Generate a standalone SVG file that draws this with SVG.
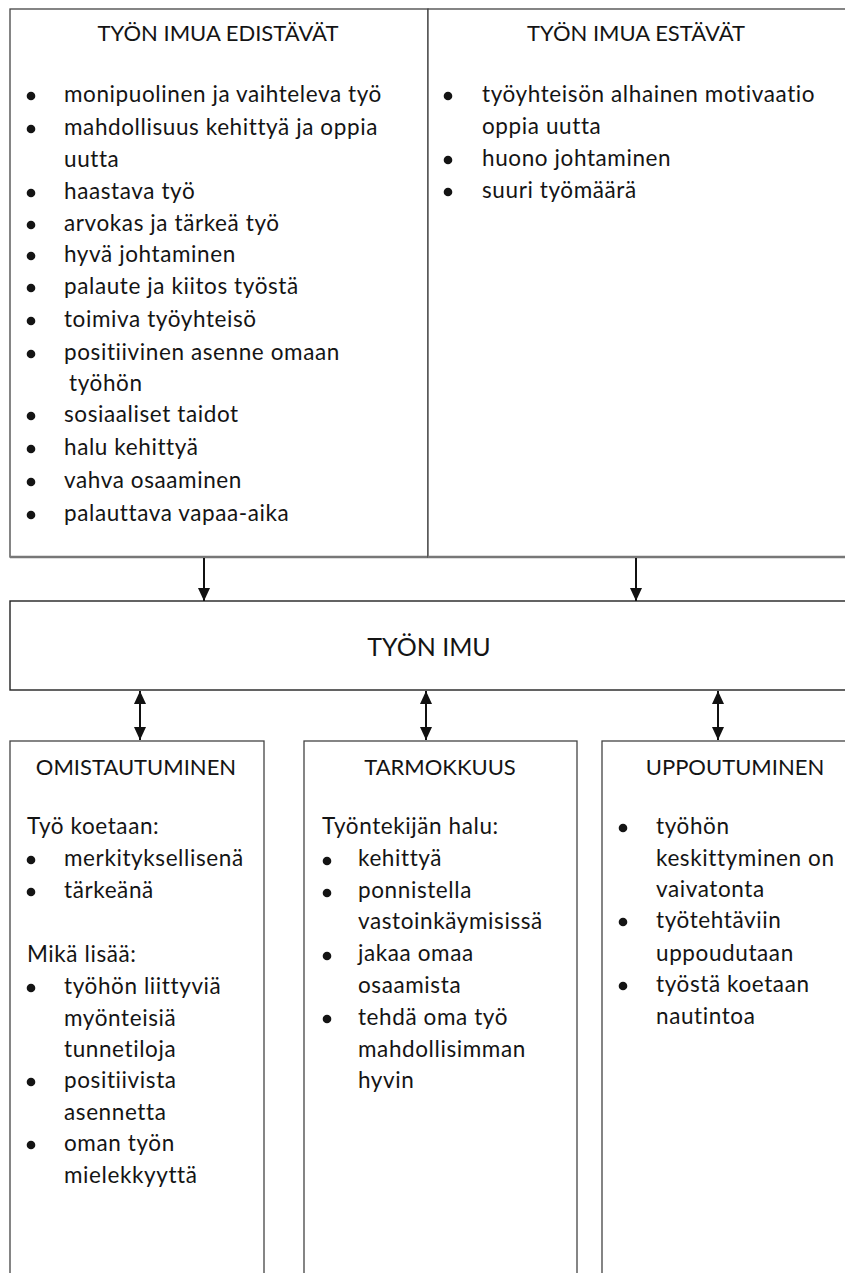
<svg xmlns="http://www.w3.org/2000/svg" width="845" height="1273" viewBox="0 0 845 1273">
<defs>
<marker id="ah" viewBox="0 0 13 12" refX="13" refY="6" markerWidth="13" markerHeight="12" markerUnits="userSpaceOnUse" orient="auto-start-reverse"><path d="M0,0 L13,6 L0,12 z" fill="#111"/></marker>
<style>
text{font-family:Lato,"Liberation Sans",sans-serif;font-size:22.5px;letter-spacing:0.6px;fill:#141414}
.t{font-size:22px;letter-spacing:0;text-anchor:middle}
.tb{font-size:22px;letter-spacing:0;text-anchor:middle}
.big{font-size:25px;letter-spacing:0;text-anchor:middle}
.box{fill:#fff;stroke:#444;stroke-width:1.3}
.mid{fill:#fff;stroke:#222;stroke-width:1.4}
.bul{fill:#141414}
.con{stroke:#111;stroke-width:2;fill:none}
</style>
</defs>
<rect width="845" height="1273" fill="#fff"/>
<g id="edistavat">
<rect class="box" x="10" y="9" width="418" height="548"/>
<line x1="10" y1="557" x2="428" y2="557" stroke="#777" stroke-width="2.5"/>
<text class="t" x="218" y="41">TYÖN IMUA EDISTÄVÄT</text>
<g class="bul"><circle cx="31" cy="96" r="4.3"/><circle cx="31" cy="129" r="4.3"/><circle cx="31" cy="193" r="4.3"/><circle cx="31" cy="225" r="4.3"/><circle cx="31" cy="256" r="4.3"/><circle cx="31" cy="288" r="4.3"/><circle cx="31" cy="321" r="4.3"/><circle cx="31" cy="354" r="4.3"/><circle cx="31" cy="416" r="4.3"/><circle cx="31" cy="449" r="4.3"/><circle cx="31" cy="482" r="4.3"/><circle cx="31" cy="515" r="4.3"/></g>
<text x="64" y="102">monipuolinen ja vaihteleva työ</text>
<text x="64" y="135">mahdollisuus kehittyä ja oppia</text>
<text x="64" y="167">uutta</text>
<text x="64" y="199">haastava  työ</text>
<text x="64" y="231">arvokas ja tärkeä työ</text>
<text x="64" y="262">hyvä johtaminen</text>
<text x="64" y="294">palaute ja kiitos työstä</text>
<text x="64" y="327">toimiva työyhteisö</text>
<text x="64" y="360">positiivinen asenne omaan</text>
<text x="69" y="391">työhön</text>
<text x="64" y="422">sosiaaliset taidot</text>
<text x="64" y="455">halu kehittyä</text>
<text x="64" y="488">vahva osaaminen</text>
<text x="64" y="521">palauttava  vapaa-aika</text>
</g>
<g id="estavat">
<rect class="box" x="428" y="9" width="420" height="548"/>
<line x1="428" y1="557" x2="845" y2="557" stroke="#777" stroke-width="2.5"/>
<text class="t" x="636" y="41">TYÖN IMUA ESTÄVÄT</text>
<g class="bul"><circle cx="448" cy="96" r="4.3"/><circle cx="448" cy="160" r="4.3"/><circle cx="448" cy="192" r="4.3"/></g>
<text x="482" y="102">työyhteisön alhainen motivaatio</text>
<text x="482" y="134">oppia uutta</text>
<text x="482" y="166">huono johtaminen</text>
<text x="482" y="198">suuri työmäärä</text>
</g>
<g id="tyon-imu">
<rect class="mid" x="10" y="601" width="840" height="89"/>
<text class="big" x="429" y="656">TYÖN IMU</text>
</g>
<g id="omistautuminen">
<rect class="box" x="10" y="741" width="254" height="540"/>
<text class="tb" x="136" y="775">OMISTAUTUMINEN</text>
<g class="bul"><circle cx="31" cy="860" r="4.3"/><circle cx="31" cy="892" r="4.3"/><circle cx="31" cy="988" r="4.3"/><circle cx="31" cy="1082" r="4.3"/><circle cx="31" cy="1145" r="4.3"/></g>
<text x="27" y="834">Työ koetaan:</text>
<text x="64" y="866">merkityksellisenä</text>
<text x="64" y="898">tärkeänä</text>
<text x="27" y="962">Mikä lisää:</text>
<text x="64" y="994">työhön liittyviä</text>
<text x="64" y="1026">myönteisiä</text>
<text x="64" y="1057">tunnetiloja</text>
<text x="64" y="1088">positiivista</text>
<text x="64" y="1120">asennetta</text>
<text x="64" y="1151">oman työn</text>
<text x="64" y="1183">mielekkyyttä</text>
</g>
<g id="tarmokkuus">
<rect class="box" x="304" y="741" width="273" height="540"/>
<text class="tb" x="440" y="775">TARMOKKUUS</text>
<g class="bul"><circle cx="327" cy="861" r="4.3"/><circle cx="327" cy="893" r="4.3"/><circle cx="327" cy="956" r="4.3"/><circle cx="327" cy="1019" r="4.3"/></g>
<text x="322" y="834">Työntekijän halu:</text>
<text x="358" y="866">kehittyä</text>
<text x="358" y="898">ponnistella</text>
<text x="358" y="929">vastoinkäymisissä</text>
<text x="358" y="961">jakaa omaa</text>
<text x="358" y="993">osaamista</text>
<text x="358" y="1025">tehdä oma työ</text>
<text x="358" y="1057">mahdollisimman</text>
<text x="358" y="1088">hyvin</text>
</g>
<g id="uppoutuminen">
<rect class="box" x="602" y="741" width="250" height="540"/>
<text class="tb" x="735" y="775">UPPOUTUMINEN</text>
<g class="bul"><circle cx="623" cy="828" r="4.3"/><circle cx="623" cy="922" r="4.3"/><circle cx="623" cy="986" r="4.3"/></g>
<text x="656" y="834">työhön</text>
<text x="656" y="866">keskittyminen on</text>
<text x="656" y="897">vaivatonta</text>
<text x="656" y="928">työtehtäviin</text>
<text x="656" y="961">uppoudutaan</text>
<text x="656" y="992">työstä koetaan</text>
<text x="656" y="1024">nautintoa</text>
</g>
<g id="connectors">
<line class="con" x1="204" y1="558" x2="204" y2="601" marker-end="url(#ah)"/>
<line class="con" x1="636" y1="558" x2="636" y2="601" marker-end="url(#ah)"/>
<line class="con" x1="140" y1="691" x2="140" y2="740" marker-start="url(#ah)" marker-end="url(#ah)"/>
<line class="con" x1="426" y1="691" x2="426" y2="740" marker-start="url(#ah)" marker-end="url(#ah)"/>
<line class="con" x1="718" y1="691" x2="718" y2="740" marker-start="url(#ah)" marker-end="url(#ah)"/>
</g>
</svg>
